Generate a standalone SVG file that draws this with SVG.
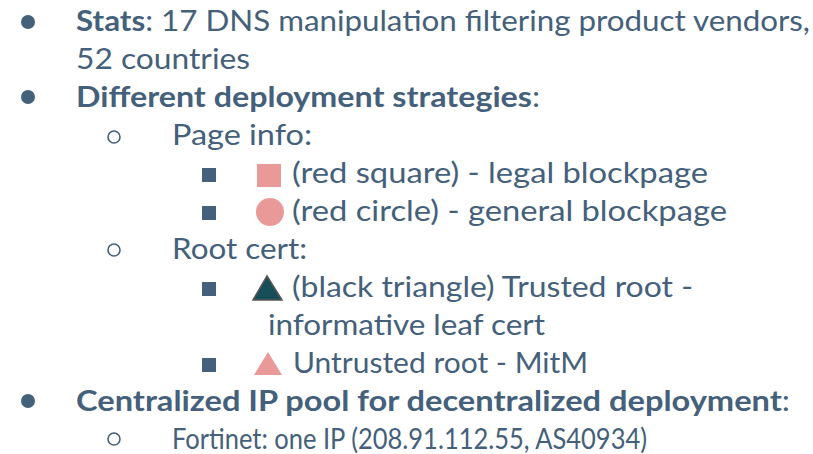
<svg xmlns="http://www.w3.org/2000/svg" width="813" height="454" viewBox="0 0 813 454">
  <style>
    text { font-family: Lato, "Open Sans", "Liberation Sans", sans-serif; font-size: 29px; fill: #44607a; }
    .b { font-weight: bold; }
    .dot { fill: #44607a; }
    .ring { fill: none; stroke: #44607a; stroke-width: 1.6; }
    .sq { fill: #44607a; }
    .red { fill: #e99a98; }
  </style>
  <rect width="813" height="454" fill="#ffffff"/>

  <!-- level 1 bullets -->
  <g id="bullets-l1">
    <circle class="dot" cx="28" cy="22" r="7"/>
    <circle class="dot" cx="28" cy="97" r="7"/>
    <circle class="dot" cx="28" cy="401" r="7"/>
  </g>
  <!-- level 2 bullets -->
  <g id="bullets-l2">
    <circle class="ring" cx="114" cy="137" r="6"/>
    <circle class="ring" cx="114" cy="250" r="6"/>
    <circle class="ring" cx="114" cy="439" r="6"/>
  </g>
  <!-- level 3 bullets -->
  <g id="bullets-l3">
    <rect class="sq" x="202" y="168" width="14" height="14"/>
    <rect class="sq" x="202" y="206" width="14" height="14"/>
    <rect class="sq" x="202" y="282" width="14" height="14"/>
    <rect class="sq" x="202" y="358" width="14" height="14"/>
  </g>

  <!-- legend icons -->
  <g id="icons">
    <rect class="red" x="257" y="164" width="24" height="23"/>
    <circle class="red" cx="270" cy="212" r="14"/>
    <polygon points="267,276 282,300 253,300" fill="#174e5a" stroke="#555555" stroke-width="1.5"/>
    <polygon class="red" points="268,352 282,375 254,375"/>
  </g>

  <g id="lines">
    <text x="76" y="31" textLength="734" lengthAdjust="spacingAndGlyphs"><tspan class="b">Stats</tspan>: 17 DNS manipulation filtering product vendors,</text>
    <text x="76" y="69" textLength="174" lengthAdjust="spacingAndGlyphs">52 countries</text>
    <text x="76" y="107" textLength="464" lengthAdjust="spacingAndGlyphs"><tspan class="b">Different deployment strategies</tspan>:</text>
    <text x="172" y="145" textLength="140" lengthAdjust="spacingAndGlyphs">Page info:</text>
    <text x="292" y="183" textLength="416" lengthAdjust="spacingAndGlyphs">(red square) - legal blockpage</text>
    <text x="292" y="221" textLength="435" lengthAdjust="spacingAndGlyphs">(red circle) - general blockpage</text>
    <text x="172" y="259" textLength="135" lengthAdjust="spacingAndGlyphs">Root cert:</text>
    <text x="292" y="297" textLength="401" lengthAdjust="spacingAndGlyphs">(black triangle) Trusted root -</text>
    <text x="268" y="335" textLength="277" lengthAdjust="spacingAndGlyphs">informative leaf cert</text>
    <text x="293" y="373" textLength="295" lengthAdjust="spacingAndGlyphs">Untrusted root - MitM</text>
    <text x="76" y="411" textLength="714" lengthAdjust="spacingAndGlyphs"><tspan class="b">Centralized IP pool for decentralized deployment</tspan>:</text>
    <text x="172" y="449" textLength="475" lengthAdjust="spacingAndGlyphs">Fortinet: one IP (208.91.112.55, AS40934)</text>
  </g>
</svg>
